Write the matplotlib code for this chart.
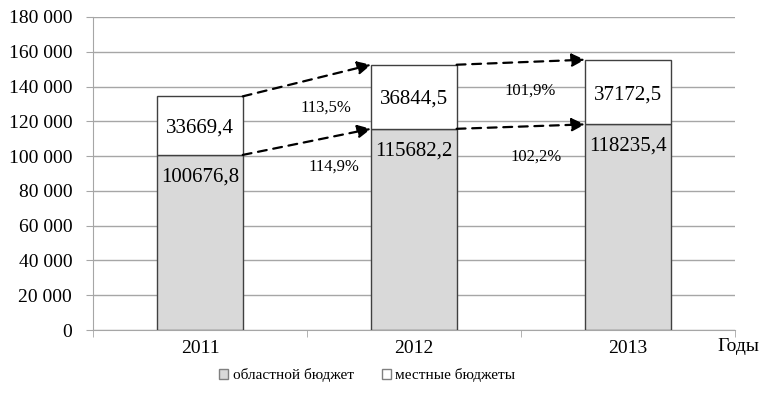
import matplotlib.pyplot as plt
import numpy as np

plt.rcParams["font.family"] = "Liberation Serif"

years = ['2011', '2012', '2013']
regional = [100676.8, 115682.2, 118235.4]
local = [33669.4, 36844.5, 37172.5]
regional_labels = ['100676,8', '115682,2', '118235,4']
local_labels = ['33669,4', '36844,5', '37172,5']
growth_local = ['113,5%', '101,9%']
growth_regional = ['114,9%', '102,2%']
yticks = [0, 20000, 40000, 60000, 80000, 100000, 120000, 140000, 160000, 180000]

EDGE = '#404040'
GRID = '#a6a6a6'
W = 0.4

fig = plt.figure(figsize=(7.75, 4.03), dpi=100)
ax = fig.add_axes([0.12, 0.181, 0.828, 0.777])

x = np.arange(len(years))
reg = np.array(regional)
loc = np.array(local)
tot = reg + loc

b1 = ax.bar(x, reg, W, color='#d9d9d9', edgecolor=EDGE, linewidth=1, zorder=3,
            label='областной бюджет')
b2 = ax.bar(x, loc, W, bottom=reg, color='white', edgecolor=EDGE, linewidth=1, zorder=3,
            label='местные бюджеты')

# value labels
for i in range(len(x)):
    ax.text(x[i], reg[i] - 12500, regional_labels[i], ha='center', va='center',
            fontsize=15, zorder=5)
    ax.text(x[i], reg[i] + loc[i] / 2 - 1500, local_labels[i], ha='center', va='center',
            fontsize=15, zorder=5)

# dashed growth arrows
for i in range(len(x) - 1):
    for ys in (tot, reg):
        ax.annotate('', xy=(x[i + 1] - W / 2, ys[i + 1]), xytext=(x[i] + W / 2, ys[i]),
                    arrowprops=dict(arrowstyle='-|>', linestyle=(0, (4, 3)), lw=1.6,
                                    color='black', mutation_scale=20,
                                    shrinkA=0, shrinkB=0),
                    zorder=6)

# growth percentages
ax.text(0.587, 128000, growth_local[0], ha='center', va='center', fontsize=12)
ax.text(0.624, 93700, growth_regional[0], ha='center', va='center', fontsize=12)
ax.text(1.545, 137400, growth_local[1], ha='center', va='center', fontsize=12)
ax.text(1.573, 99500, growth_regional[1], ha='center', va='center', fontsize=12)

ax.set_xlim(-0.5, 2.5)
ax.set_ylim(0, 180000)
ax.set_yticks(yticks)
ax.set_yticklabels([f'{v:,}'.replace(',', ' ') for v in yticks], fontsize=14)
ax.set_xticks(x)
ax.set_xticklabels(years, fontsize=14)
ax.set_xticks([-0.5, 0.5, 1.5, 2.5], minor=True)
ax.tick_params(axis='x', which='major', length=0, pad=7)
ax.tick_params(axis='x', which='minor', length=5, color=GRID, direction='out')
ax.tick_params(axis='y', length=5, color=GRID, pad=10)

ax.grid(axis='y', color=GRID, linewidth=1, zorder=0)
for s in ['top', 'right']:
    ax.spines[s].set_visible(False)
for s in ['left', 'bottom']:
    ax.spines[s].set_color(GRID)

fig.text(0.98, 0.139, 'Годы', ha='right', va='center', fontsize=14)

leg = fig.legend(handles=[b1, b2], loc='center', bbox_to_anchor=(0.474, 0.069), ncol=2,
                 frameon=False, fontsize=11, handlelength=0.6, handleheight=0.6,
                 handletextpad=0.3, columnspacing=1.8)
for h in leg.legend_handles:
    h.set_edgecolor('#808080')

fig.savefig('out.png', dpi=100)
